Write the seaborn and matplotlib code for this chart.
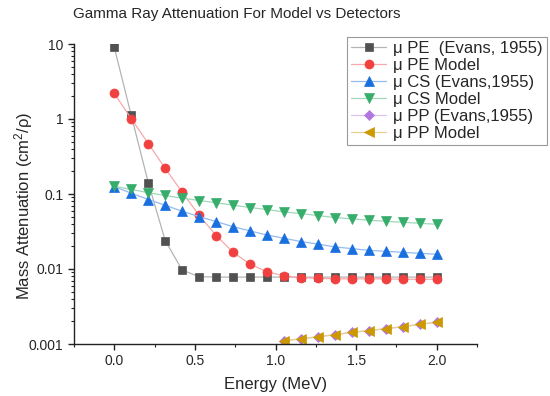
import matplotlib
matplotlib.use("Agg")
import matplotlib.pyplot as plt
import matplotlib.ticker as mticker
import seaborn as sns
import pandas as pd

# ---- data ----
energy = [0.000, 0.105, 0.211, 0.316, 0.421, 0.526, 0.632, 0.737, 0.842, 0.947,
          1.053, 1.158, 1.263, 1.368, 1.474, 1.579, 1.684, 1.789, 1.895, 2.000]
pe_evans = [9.0, 1.12, 0.141, 0.0239, 0.00968, 0.0079, 0.0078, 0.0078, 0.0078, 0.0078,
            0.0078, 0.0078, 0.0078, 0.0078, 0.0078, 0.0078, 0.0078, 0.0078, 0.0078, 0.0078]
pe_model = [2.19, 1.01, 0.47, 0.219, 0.106, 0.052, 0.0279, 0.0167, 0.0116, 0.0092,
            0.0081, 0.0077, 0.0075, 0.0074, 0.0074, 0.0074, 0.0074, 0.0073, 0.0073, 0.0073]
cs_evans = [0.125, 0.1026, 0.0844, 0.0708, 0.0589, 0.050, 0.0429, 0.0367, 0.0322, 0.0284,
            0.0257, 0.0232, 0.0215, 0.0197, 0.0187, 0.0177, 0.0172, 0.0167, 0.0162, 0.0157]
cs_model = [0.127, 0.115, 0.104, 0.0955, 0.088, 0.0819, 0.0763, 0.071, 0.066, 0.062,
            0.0577, 0.0548, 0.0516, 0.0485, 0.0466, 0.0447, 0.0433, 0.042, 0.0407, 0.0395]
pp_energy = [1.053, 1.158, 1.263, 1.368, 1.474, 1.579, 1.684, 1.789, 1.895, 2.000]
pp_evans = [0.00111, 0.00117, 0.00125, 0.00133, 0.00143, 0.00151, 0.0016, 0.0017, 0.00183, 0.00195]
pp_model = [0.00111, 0.00117, 0.00125, 0.00133, 0.00143, 0.00151, 0.0016, 0.0017, 0.00183, 0.00195]

labels = ["μ PE  (Evans, 1955)", "μ PE Model", "μ CS (Evans,1955)",
          "μ CS Model", "μ PP (Evans,1955)", "μ PP Model"]
x_ticks = [0.0, 0.5, 1.0, 1.5, 2.0]
y_ticks = [0.001, 0.01, 0.1, 1, 10]

# ---- style ----
sns.set_style("ticks")
plt.rcParams["font.family"] = ["Liberation Sans", "DejaVu Sans"]
plt.rcParams["mathtext.fontset"] = "custom"
plt.rcParams["mathtext.rm"] = "Liberation Sans"
plt.rcParams["mathtext.it"] = "Liberation Sans:italic"

fig = plt.figure(figsize=(5.5, 3.96), dpi=100)
ax = fig.add_axes([74 / 550, 1 - 344 / 396, (477 - 74) / 550, (344 - 44) / 396])

series = [
    (energy, pe_evans, "s", "#515151", "#b4b4b4", 6.0),
    (energy, pe_model, "o", "#F14040", "#f8a8a8", 6.5),
    (energy, cs_evans, "^", "#1A6FDF", "#93bbf0", 7.0),
    (energy, cs_model, "v", "#37AD6B", "#a0d8b8", 7.0),
    (pp_energy, pp_evans, "D", "#B177DE", "#dcc2f0", 5.5),
    (pp_energy, pp_model, "<", "#CC9900", "#e8d08a", 7.0),
]

for (xs, ys, mk, mc, lc, ms), lab in zip(series, labels):
    df = pd.DataFrame({"E": xs, "mu": ys})
    sns.lineplot(data=df, x="E", y="mu", ax=ax, color=lc, lw=0.9,
                 marker=mk, markersize=ms, markerfacecolor=mc,
                 markeredgecolor=mc, markeredgewidth=0.5, label=lab,
                 legend=False)

ax.set_yscale("log")
ax.set_ylim(0.001, 10)
ax.set_xlim(-0.25, 2.25)
ax.set_xticks(x_ticks)
ax.xaxis.set_major_formatter(mticker.FormatStrFormatter("%.1f"))
ax.xaxis.set_minor_locator(mticker.MultipleLocator(0.25))
ax.set_yticks(y_ticks)
ax.yaxis.set_major_formatter(mticker.FuncFormatter(lambda v, _: f"{v:g}"))
ax.yaxis.set_minor_locator(mticker.LogLocator(base=10, subs=range(2, 10), numticks=20))
ax.yaxis.set_minor_formatter(mticker.NullFormatter())

for s in ["top", "right"]:
    ax.spines[s].set_visible(False)
for s in ["left", "bottom"]:
    ax.spines[s].set_linewidth(1.0)
    ax.spines[s].set_color("#222222")
ax.tick_params(which="major", direction="out", length=4.5, width=1.0,
               labelsize=10, color="#222222", pad=3)
ax.tick_params(which="minor", direction="out", length=2.3, width=0.8, color="#222222")

ax.set_xlabel("Energy (MeV)", fontsize=12, labelpad=6)
ax.set_ylabel("Mass Attenuation (cm$^2$/ρ)", fontsize=12)
ax.yaxis.set_label_coords(-0.096, 0.46)

fig.text(237 / 550, 1 - 14 / 396, "Gamma Ray Attenuation For Model vs Detectors",
         ha="center", va="center", fontsize=11)

handles, labs = ax.get_legend_handles_labels()
leg = ax.legend(handles, labs, loc="upper left",
                bbox_to_anchor=(347 / 550, 1 - 37 / 396), bbox_transform=fig.transFigure,
                borderaxespad=0, fontsize=12, frameon=True, fancybox=False,
                framealpha=1, edgecolor="#9a9a9a", handlelength=2.1,
                labelspacing=0.12, borderpad=0.25, handletextpad=0.4)
leg.get_frame().set_linewidth(0.8)

fig.savefig("out.png", dpi=100)
